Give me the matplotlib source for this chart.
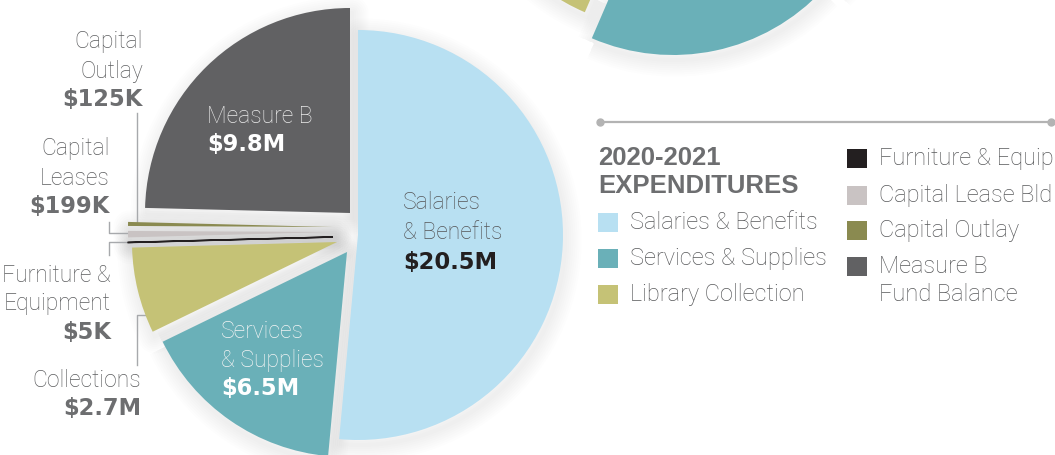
import numpy as np
import matplotlib
matplotlib.use('Agg')
import matplotlib.pyplot as plt
from matplotlib.patches import Wedge, Rectangle

# 2020-2021 expenditures (millions)
categories = ['Salaries & Benefits', 'Services & Supplies', 'Library Collection',
              'Furniture & Equip', 'Capital Lease Bld', 'Capital Outlay',
              'Measure B Fund Balance']
values = [20.5, 6.5, 2.7, 0.005, 0.199, 0.125, 9.8]
colors = ['#b8e0f2', '#6ab0b8', '#c5c276', '#231f20', '#c9c3c3', '#8a8a50', '#616163']

# the previous year pie, cropped at the top (estimated)
prev_values = [15.1, 8.0, 2.9, 14.9]
prev_colors = ['#b8e0f2', '#6ab0b8', '#c5c276', '#616163']

W, H = 1055, 455
fig = plt.figure(figsize=(W / 100, H / 100), dpi=100)
ax = fig.add_axes([0, 0, 1, 1])

LIGHT = 'Roboto'
HEAVY = 'DejaVu Sans'
GRAY = '#6d6e70'
TXT = '#5c5d5f'


def Y(y):
    return H - y


def shadow(w):
    for k in range(1, 9):
        ax.add_patch(Wedge((w.center[0] + 2, w.center[1] - 5), w.r, w.theta1, w.theta2,
                           facecolor='none', edgecolor='k', lw=k * 3,
                           alpha=0.006, joinstyle='round', zorder=0))


def draw_pie(vals, cols, center, offsets):
    wedges, _ = ax.pie(vals, colors=cols, startangle=90, counterclock=False,
                       radius=205, center=center, wedgeprops=dict(linewidth=0))
    for w, (dx, dy) in zip(wedges, offsets):
        w.set_center((center[0] + dx, center[1] - dy))
        w.set_zorder(2)
        shadow(w)
    return wedges


# main pie, slices pulled apart by hand
main_off = [(13, 0), (2, 17), (-8, 7), (-12, 2), (-12, -3), (-12, -8), (5, -22)]
wedges = draw_pie(values, colors, (345, Y(235)), main_off)
wedges[3].set_edgecolor(colors[3])
wedges[3].set_linewidth(1.1)

prev_off = [(13, 0), (0, 0), (-7, -26), (0, -20)]
draw_pie(prev_values, prev_colors, (673, Y(-150)), prev_off)

ax.set_xlim(0, W)
ax.set_ylim(0, H)
ax.set_aspect('equal')
ax.axis('off')

fs_l, fs_b = 16.5, 16.3


def label(x, ys, lines, ha, col=TXT, vcol=GRAY):
    for (y, t, bold) in zip(ys, lines, [False] * (len(lines) - 1) + [True]):
        if bold:
            ax.text(x, Y(y), t, ha=ha, va='baseline', fontsize=fs_b, color=vcol,
                    family=HEAVY, weight='bold', zorder=5)
        else:
            ax.text(x, Y(y), t, ha=ha, va='baseline', fontsize=fs_l, color=col,
                    family=LIGHT, weight='light', zorder=5)


label(143, [48, 78, 106], ['Capital', 'Outlay', '$125K'], 'right')
label(110, [155, 185, 213], ['Capital', 'Leases', '$199K'], 'right')
label(111, [282, 310, 339], ['Furniture &', 'Equipment', '$5K'], 'right')
label(141, [387, 415], ['Collections', '$2.7M'], 'right')
label(207, [123, 151], ['Measure B', '$9.8M'], 'left', col='#ececec', vcol='white')
label(221, [338, 367, 395], ['Services', '& Supplies', '$6.5M'], 'left',
      col='#f4f4f4', vcol='white')
label(403, [209, 239, 269], ['Salaries', '& Benefits', '$20.5M'], 'left',
      col='#555557', vcol='#231f20')

# leader lines
lc = '#a7a9ac'
ax.plot([137, 137], [Y(113), Y(224)], color=lc, lw=1, zorder=1)
ax.plot([109, 109, 132], [Y(222), Y(233), Y(233)], color=lc, lw=1, zorder=1)
ax.plot([132, 109, 109], [Y(242), Y(242), Y(255)], color=lc, lw=1, zorder=1)
ax.plot([147, 137, 137], [Y(315), Y(315), Y(365)], color=lc, lw=1, zorder=1)

# legend block
ax.plot([600, 1051], [Y(122), Y(122)], color='#b3b3b3', lw=1.6, zorder=1)
ax.plot([600, 1051], [Y(122), Y(122)], 'o', color='#b3b3b3', ms=5, zorder=1)
ax.text(598, Y(165), '2020-2021', fontsize=18.5, weight='bold', color=GRAY,
        family='Liberation Sans', va='baseline')
ax.text(598, Y(193), 'EXPENDITURES', fontsize=18.5, weight='bold', color=GRAY,
        family='Liberation Sans', va='baseline')

leg_rows = [(598, 229, 0), (598, 265, 1), (598, 301, 2),
            (847, 165, 3), (847, 202, 4), (847, 237, 5), (847, 273, 6)]
leg_text = ['Salaries & Benefits', 'Services & Supplies', 'Library Collection',
            'Furniture & Equip', 'Capital Lease Bld', 'Capital Outlay',
            'Measure B']
for (x, yb, i) in leg_rows:
    ax.add_patch(Rectangle((x, Y(yb + 3)), 20, 19, facecolor=colors[i], lw=0))
    ax.text(x + 32, Y(yb), leg_text[i], fontsize=17, weight='light',
            family=LIGHT, color='#58595b', va='baseline')
ax.text(879, Y(301), 'Fund Balance', fontsize=17, weight='light',
        family=LIGHT, color='#58595b', va='baseline')

fig.savefig('out.png', dpi=100)
